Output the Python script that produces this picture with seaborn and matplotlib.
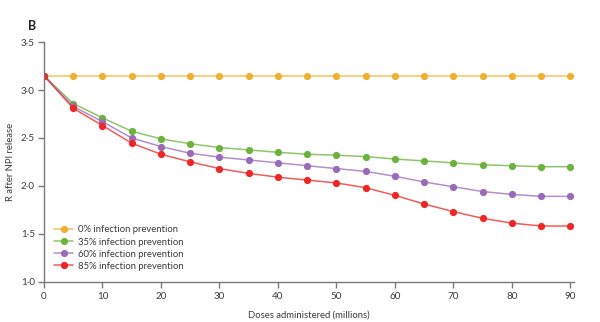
import numpy as np
import pandas as pd
import matplotlib
matplotlib.use("Agg")
import matplotlib.pyplot as plt
import seaborn as sns

doses = [0, 5, 10, 15, 20, 25, 30, 35, 40, 45, 50, 55, 60, 65, 70, 75, 80, 85, 90]

r_0 = [3.15] * 19
r_35 = [3.15, 2.86, 2.71, 2.57, 2.49, 2.44, 2.40, 2.375, 2.35, 2.33, 2.32, 2.305,
        2.28, 2.26, 2.24, 2.22, 2.21, 2.20, 2.20]
r_60 = [3.15, 2.83, 2.67, 2.50, 2.41, 2.34, 2.30, 2.27, 2.24, 2.21, 2.18, 2.15,
        2.10, 2.04, 1.99, 1.94, 1.91, 1.89, 1.89]
r_85 = [3.15, 2.81, 2.63, 2.445, 2.33, 2.25, 2.18, 2.13, 2.09, 2.06, 2.03, 1.98,
        1.90, 1.81, 1.73, 1.66, 1.61, 1.58, 1.58]

series_labels = ["0% infection prevention", "35% infection prevention",
                 "60% infection prevention", "85% infection prevention"]
colors = ["#F0B02E", "#6BB33A", "#9A6BB8", "#EE2624"]

y_ticks = [1.0, 1.5, 2.0, 2.5, 3.0, 3.5]
x_ticks = [0, 10, 20, 30, 40, 50, 60, 70, 80, 90]

frames = []
for lab, vals in zip(series_labels, [r_0, r_35, r_60, r_85]):
    frames.append(pd.DataFrame({"doses": doses, "R": vals, "scenario": lab}))
df = pd.concat(frames, ignore_index=True)

sns.set_style("white")
plt.rcParams["font.family"] = ["Lato", "DejaVu Sans"]

FS = 6.8
TXT = "#3a3a3a"

fig = plt.figure(figsize=(6.0, 3.22), dpi=100)
ax = fig.add_axes([44 / 600, 1 - 281.5 / 322, 530 / 600, (281.5 - 42.3) / 322])

sns.lineplot(data=df, x="doses", y="R", hue="scenario", palette=colors,
             hue_order=series_labels, marker="o", markersize=5.2,
             markeredgewidth=0, linewidth=1.1, ax=ax, legend=False)

# soften connecting lines, keep markers solid
for line in ax.get_lines():
    c = matplotlib.colors.to_rgba(line.get_color())
    line.set_color((c[0], c[1], c[2], 0.75))
    line.set_markerfacecolor(c[:3])
    line.set_markeredgecolor(c[:3])

ax.set_xlim(0, 90.6)
ax.set_ylim(1.0, 3.5)
ax.set_xticks(x_ticks)
ax.set_yticks(y_ticks)
ax.set_yticklabels([f"{v:.1f}".replace(".", "\u00b7") for v in y_ticks])

for side in ["top", "right"]:
    ax.spines[side].set_visible(False)
for side in ["left", "bottom"]:
    ax.spines[side].set_color("#7a7a7a")
    ax.spines[side].set_linewidth(1.0)
ax.tick_params(axis="both", direction="out", length=4, width=1.0, color="#7a7a7a",
               labelsize=FS + 0.3, labelcolor=TXT, left=True, bottom=True)
ax.tick_params(axis="x", pad=3.5)
ax.tick_params(axis="y", pad=2.5)

ax.set_xlabel("Doses administered (millions)", fontsize=FS, color=TXT, labelpad=7)
ax.set_ylabel("R after NPI release", fontsize=FS, color=TXT, labelpad=4)

handles = [plt.Line2D([0], [0], color=c, marker="o", markersize=5.2,
                      markeredgewidth=0, linewidth=1.1) for c in colors]
for h, c in zip(handles, colors):
    h.set_color(matplotlib.colors.to_rgba(c, 0.75))
    h.set_markerfacecolor(c)
leg = ax.legend(handles, series_labels, loc="lower left", bbox_to_anchor=(0.012, 0.03),
                frameon=False, fontsize=FS, handlelength=2.0, handletextpad=0.5,
                labelspacing=0.32, borderaxespad=0)
for t in leg.get_texts():
    t.set_color(TXT)

fig.text(28 / 600, 1 - 25.5 / 322, "B", fontsize=9, fontweight="bold", color="#222222",
         va="center", ha="left")

fig.savefig("out.png", dpi=100)
